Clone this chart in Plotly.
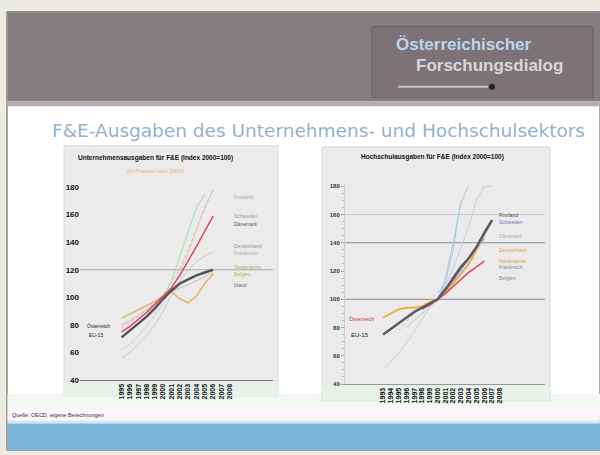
import plotly.graph_objects as go

W, H = 600, 455

# ---- data: business enterprise R&D (left), higher education R&D (right), index 2000=100
years_left = list(range(1995, 2007))
left_at = [71, 76, 81, 86, 92, 99, 105, 110, 113, 116, 118, 120]
left_red = [75, 79, 84, 89, 95, 101, 107, 116, 126, 137, 148, 159]
left_pink = [78, 82, 86, 91, 96, 102, 110, 121, 134, 150, 165, 178]
left_orange = [85, 88, 91, 94, 97, 101, 104, 99, 96, 101, 110, 117]
left_gray1 = [56, 60, 66, 72, 80, 90, 102, 112, 120, 126, 130, 133]
left_gray2 = [62, 66, 72, 79, 87, 96, 106, 118, 132, 148, 165, 178]
left_gray3 = [80, 83, 87, 91, 95, 100, 104, 107, 109, 112, 115, 118]
years_left_green = list(range(1999, 2006))
left_green = [92, 100, 112, 130, 148, 165, 175]
left_ticks_x = list(range(1995, 2009))

years_right = list(range(1993, 2008))
right_eu = [75, 79, 83, 87, 91, 94, 97, 100, 107, 115, 123, 129, 137, 147, 156]
right_orange = [87, 90, 93, 94, 94, 95, 98, 100, 105, 111, 118, 125, 135, 146, 156]
right_gray1 = [50, 56, 62, 69, 77, 86, 94, 100, 110, 122, 136, 152, 170, 180, 180]
years_right_at = list(range(1998, 2007))
right_at = [93, 96, 100, 104, 109, 114, 119, 123, 127]
right_purple = [94, 97, 100, 106, 113, 121, 129, 136, 143]
years_right_cyan = list(range(1997, 2004))
right_cyan = [92, 95, 98, 100, 112, 135, 170]
years_right_gray2 = list(range(1996, 2005))
right_gray2 = [80, 85, 90, 95, 100, 115, 140, 168, 181]
years_right_pink = list(range(1995, 2006))
right_pink = [78, 84, 90, 95, 100, 105, 111, 117, 122, 126, 130]
right_ticks_x = list(range(1993, 2009))

y_ticks = [40, 60, 80, 100, 120, 140, 160, 180]

left_labels = ["Finnland", "Schweden", "Dänemark", "Deutschland", "Frankreich",
               "Niederlande", "Belgien", "Irland"]
left_label_y = [173, 159, 153, 137, 132, 122, 117, 109]
left_label_col = ["#aaaaaa", "#999999", "#555555", "#999999", "#aaaaaa",
                  "#b9b35a", "#b9b35a", "#666666"]

right_labels = ["Finnland", "Schweden", "Dänemark", "Deutschland", "Niederlande",
                "Frankreich", "Belgien"]
right_label_y = [160, 155, 145, 135, 127, 123, 115]
right_label_col = ["#444444", "#7a6fb0", "#aaaaaa", "#e0a050", "#e0a050",
                   "#888888", "#888888"]


def px(x):
    return x / W


def py(y):
    return 1 - y / H


fig = go.Figure()


def add_line(x, y, color, width, xa="x", ya="y", dash="solid"):
    fig.add_trace(go.Scatter(x=x, y=y, mode="lines", xaxis=xa, yaxis=ya,
                             line=dict(color=color, width=width, dash=dash),
                             showlegend=False, hoverinfo="skip"))


# left chart lines
add_line(years_left, left_gray1, "#c8c8c8", 1)
add_line(years_left, left_gray2, "#cfcfcf", 1)
add_line(years_left, left_gray3, "#bdbdbd", 1)
add_line(years_left_green, left_green, "#9fdc9f", 1)
add_line(years_left, left_pink, "#f2a6b6", 1, dash="dot")
add_line(years_left, left_orange, "#e3b46a", 1.5)
add_line(years_left, left_red, "#e0455a", 1.5)
add_line(years_left, left_at, "#555555", 2.5)

# right chart lines
add_line(years_right, right_gray1, "#cfcfcf", 1, "x2", "y2")
add_line(years_right_gray2, right_gray2, "#c4c4c4", 1, "x2", "y2")
add_line(years_right_cyan, right_cyan, "#8ed8ea", 1, "x2", "y2")
add_line(years_right_pink, right_pink, "#f2a6b6", 1, "x2", "y2", dash="dot")
add_line(years_right_at, right_purple, "#9d95d0", 1.5, "x2", "y2")
add_line(years_right, right_orange, "#e8b24a", 2, "x2", "y2")
add_line(years_right_at, right_at, "#e0455a", 1.5, "x2", "y2")
add_line(years_right, right_eu, "#555b66", 2.5, "x2", "y2")

tickfont = dict(family="Liberation Sans", size=7, color="#111111", weight="bold")

shapes = []
# slide background and bands
shapes.append(dict(type="rect", xref="paper", yref="paper", x0=px(7), x1=px(600),
                   y0=py(455), y1=py(10), fillcolor="white",
                   line=dict(color="#555555", width=1), layer="below"))
shapes.append(dict(type="rect", xref="paper", yref="paper", x0=px(7.5), x1=px(600),
                   y0=py(101), y1=py(10.5), fillcolor="#857e80", line_width=0, layer="below"))
shapes.append(dict(type="rect", xref="paper", yref="paper", x0=px(7.5), x1=px(600),
                   y0=py(106), y1=py(101), fillcolor="#b4aeb0", line_width=0, layer="below"))
shapes.append(dict(type="rect", xref="paper", yref="paper", x0=px(372), x1=px(593),
                   y0=py(97), y1=py(25), fillcolor="#7b7375",
                   line=dict(color="#6a6264", width=1), layer="below"))
shapes.append(dict(type="line", xref="paper", yref="paper", x0=px(398), x1=px(488),
                   y0=py(86), y1=py(86), line=dict(color="#c9c4c6", width=2), layer="below"))
shapes.append(dict(type="circle", xref="paper", yref="paper", x0=px(489), x1=px(495),
                   y0=py(89), y1=py(83), fillcolor="#222222", line_width=0, layer="below"))
# lower tints and footer band
shapes.append(dict(type="rect", xref="paper", yref="paper", x0=px(7.5), x1=px(600),
                   y0=py(412), y1=py(398), fillcolor="#f1f8f2", line_width=0, layer="below"))
shapes.append(dict(type="rect", xref="paper", yref="paper", x0=px(7.5), x1=px(600),
                   y0=py(425), y1=py(412), fillcolor="#fcf4fb", line_width=0, layer="below"))
shapes.append(dict(type="rect", xref="paper", yref="paper", x0=px(7.5), x1=px(600),
                   y0=py(428), y1=py(425), fillcolor="#cfe9f3", line_width=0, layer="below"))
shapes.append(dict(type="rect", xref="paper", yref="paper", x0=px(7.5), x1=px(600),
                   y0=py(455), y1=py(428), fillcolor="#7cb4d9", line_width=0, layer="below"))
# chart panels
for (x0, x1, y0, y1) in [(64, 278, 146, 400), (322, 550, 147, 405)]:
    shapes.append(dict(type="rect", xref="paper", yref="paper", x0=px(x0), x1=px(x1),
                       y0=py(y1), y1=py(y0), fillcolor="#ebebeb",
                       line=dict(color="#d8d8d8", width=1), layer="below"))
for (x0, x1, y0, y1) in [(64, 278, 386, 400), (322, 550, 390, 405)]:
    shapes.append(dict(type="rect", xref="paper", yref="paper", x0=px(x0), x1=px(x1),
                       y0=py(y1), y1=py(y0), fillcolor="#e8f2ea", line_width=0, layer="below"))
# gridlines
shapes.append(dict(type="line", xref="x domain", yref="y", x0=0, x1=1, y0=120, y1=120,
                   line=dict(color="#a8a8a8", width=1), layer="below"))
for v, c in [(100, "#8a8a8a"), (140, "#8a8a8a"), (160, "#cccccc")]:
    shapes.append(dict(type="line", xref="x2 domain", yref="y2", x0=0, x1=1, y0=v, y1=v,
                       line=dict(color=c, width=1), layer="below"))

annotations = []


def note(x, y, text, size, color, xanchor="center", weight="normal", family="Liberation Sans"):
    annotations.append(dict(xref="paper", yref="paper", x=px(x), y=py(y), text=text,
                            showarrow=False, xanchor=xanchor, yanchor="middle",
                            font=dict(family=family, size=size, color=color, weight=weight)))


note(318, 131, "F&E-Ausgaben des Unternehmens- und Hochschulsektors", 18.5, "#92b2cc",
     family="DejaVu Sans")
note(394, 43, "Österreichischer", 17, "#bcd6ef", xanchor="left", weight="bold")
note(414, 65, "Forschungsdialog", 17, "#d8d8dc", xanchor="left", weight="bold")
note(155, 158, "Unternehmensausgaben für F&E (Index 2000=100)", 6.5, "#111111", weight="bold")
note(155, 172, "(in Preisen von 2000)", 6, "#e6b27a")
note(432, 157, "Hochschulausgaben für F&E (Index 2000=100)", 6.5, "#111111", weight="bold")
note(10, 419, "Quelle: OECD, eigene Berechnungen", 5.5, "#333333", xanchor="left")

for t, yv, c in zip(left_labels, left_label_y, left_label_col):
    annotations.append(dict(xref="x", yref="y", x=2008.3, y=yv, text=t, showarrow=False,
                            xanchor="left", font=dict(family="Liberation Sans", size=5, color=c)))
for t, yv, c in zip(right_labels, right_label_y, right_label_col):
    annotations.append(dict(xref="x2", yref="y2", x=2007.6, y=yv, text=t, showarrow=False,
                            xanchor="left", font=dict(family="Liberation Sans", size=5, color=c)))
annotations.append(dict(xref="x", yref="y", x=1990.6, y=79, text="Österreich", showarrow=False,
                        xanchor="left", font=dict(family="Liberation Sans", size=5, color="#222222")))
annotations.append(dict(xref="x", yref="y", x=1990.9, y=73, text="EU-15", showarrow=False,
                        xanchor="left", font=dict(family="Liberation Sans", size=5, color="#222222")))
annotations.append(dict(xref="x2", yref="y2", x=1988.4, y=86, text="Österreich", showarrow=False,
                        xanchor="left", font=dict(family="Liberation Sans", size=5.5, color="#d03040")))
annotations.append(dict(xref="x2", yref="y2", x=1988.6, y=75, text="EU-15", showarrow=False,
                        xanchor="left", font=dict(family="Liberation Sans", size=6, color="#222222")))

fig.update_layout(
    width=W, height=H, margin=dict(l=0, r=0, t=0, b=0),
    paper_bgcolor="#ecebe3", plot_bgcolor="white",
    shapes=shapes, annotations=annotations, showlegend=False,
    xaxis=dict(domain=[px(80), px(273)], range=[1990, 2013.2], tickvals=left_ticks_x,
               ticktext=[str(v) for v in left_ticks_x], tickangle=-90, tickfont=tickfont,
               showgrid=False, zeroline=False, showline=True, linecolor="#777777",
               ticks="", anchor="y"),
    yaxis=dict(domain=[py(384), py(186)], range=[40, 181.4], tickvals=y_ticks,
               tickfont=dict(family="Liberation Sans", size=8, color="#111111", weight="bold"),
               showgrid=False, zeroline=False, showline=False, ticks="", anchor="x"),
    xaxis2=dict(domain=[px(345), px(545)], range=[1988.1, 2013.8], tickvals=right_ticks_x,
                ticktext=[str(v) for v in right_ticks_x], tickangle=-90, tickfont=tickfont,
                showgrid=False, zeroline=False, showline=True, linecolor="#999999",
                ticks="", anchor="y2"),
    yaxis2=dict(domain=[py(388), py(186)], range=[40, 180.8], tickvals=y_ticks,
                tickfont=dict(family="Liberation Sans", size=6, color="#333333", weight="bold"),
                showgrid=False, zeroline=False, showline=True, linecolor="#cccccc",
                ticks="outside", ticklen=3, tickcolor="#aaaaaa",
                minor=dict(ticks="outside", ticklen=2, tickcolor="#bbbbbb", dtick=5),
                anchor="x2"),
)

fig.write_html("out.html")
